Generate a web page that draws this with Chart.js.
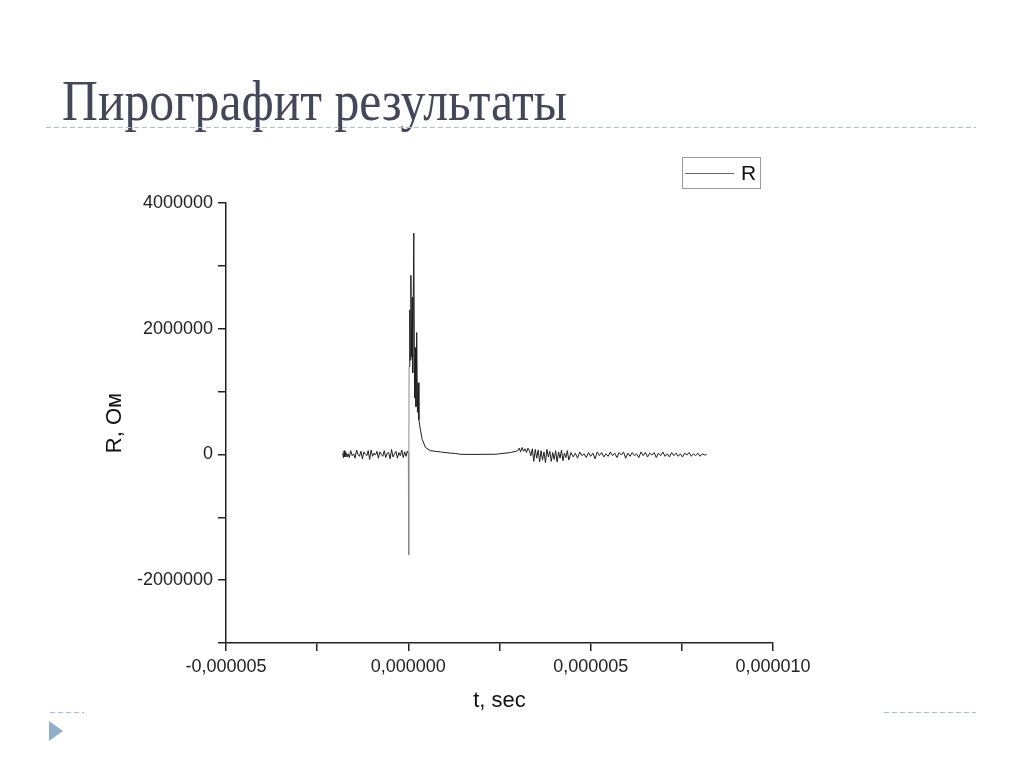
<!DOCTYPE html>
<html lang="ru">
<head>
<meta charset="utf-8">
<title>Пирографит результаты</title>
<script src="https://cdn.jsdelivr.net/npm/chart.js@4.4.1/dist/chart.umd.min.js"></script>
<style>
    html, body { margin: 0; padding: 0; background: #fff; }
    #slide { position: relative; width: 1024px; height: 767px; overflow: hidden; }
    #titulo {
        position: absolute; left: 62px; top: 73px; margin: 0;
        font-family: "Liberation Serif", "DejaVu Serif", serif;
        font-weight: normal; font-size: 56px; line-height: 1;
        color: #44465a; white-space: nowrap; transform-origin: left top;
    }
    .rayas {
        position: absolute; height: 1px;
        background: repeating-linear-gradient(to right, #a9bfcf 0 5px, transparent 5px 8px);
    }
    #flecha {
        position: absolute; left: 49px; top: 721px; width: 0; height: 0;
        border-top: 10px solid transparent; border-bottom: 10px solid transparent;
        border-left: 14px solid #8fafcb;
    }
    #grafico { position: absolute; left: 0; top: 0; }
</style>
</head>
<body>
<div id="slide">
    <h1 id="titulo">Пирографит результаты</h1>
    <div class="rayas" style="left:46px; top:127px; width:930px;"></div>
    <div class="rayas" style="left:50px; top:712px; width:34px;"></div>
    <div class="rayas" style="left:884px; top:712px; width:92px;"></div>
    <div id="flecha"></div>
    <canvas id="grafico" width="1024" height="767"></canvas>
</div>
<script>
// tiempo en microsegundos, R en Ohm
const ruidoPrevio = [
    [-1.80, 20000], [-1.78, -50000], [-1.76, 60000], [-1.74, -40000], [-1.71, 30000],
    [-1.68, -40000], [-1.65, 10000], [-1.62, -50000], [-1.58, 60000], [-1.54, -20000],
    [-1.50, 10000], [-1.46, -60000], [-1.42, 70000], [-1.38, 0], [-1.34, -30000],
    [-1.30, 50000], [-1.26, -70000], [-1.22, 40000], [-1.18, 10000], [-1.14, -20000],
    [-1.10, 60000], [-1.06, -80000], [-1.02, 70000], [-0.98, -30000], [-0.94, 20000],
    [-0.90, -10000], [-0.86, 50000], [-0.82, -60000], [-0.78, 40000], [-0.74, 0],
    [-0.70, -30000], [-0.66, 60000], [-0.62, -50000], [-0.58, 20000], [-0.54, 30000],
    [-0.50, -70000], [-0.46, 80000], [-0.42, -40000], [-0.38, 10000], [-0.34, 50000],
    [-0.30, -60000], [-0.26, 30000], [-0.22, -20000], [-0.18, 70000], [-0.14, -50000],
    [-0.10, 40000], [-0.06, -30000], [-0.03, 50000]
];

const pulso = [
    [0.00, 20000], [0.01, -1600000], [0.02, 1400000], [0.04, 2300000], [0.05, 1500000],
    [0.07, 2850000], [0.09, 1550000], [0.11, 2500000], [0.12, 1300000], [0.15, 3520000],
    [0.17, 900000], [0.19, 1700000], [0.21, 760000], [0.23, 1940000], [0.25, 670000],
    [0.27, 1140000], [0.29, 550000], [0.33, 400000], [0.38, 240000], [0.47, 110000],
    [0.60, 60000], [0.88, 40000], [1.15, 20000], [1.30, 15000], [1.42, 2000],
    [1.80, 0], [2.40, 3000], [2.50, 10000], [2.80, 30000], [2.95, 50000]
];

const ruidoFinal = [
    [3.00, 60000], [3.04, 100000], [3.08, 40000], [3.12, 110000], [3.16, 50000],
    [3.20, 90000], [3.24, 30000], [3.28, 100000], [3.32, 60000], [3.36, -20000],
    [3.40, 90000], [3.44, -110000], [3.48, 80000], [3.52, -60000], [3.56, 70000],
    [3.60, -120000], [3.64, 60000], [3.68, -90000], [3.72, 40000], [3.76, -130000],
    [3.80, 80000], [3.84, -40000], [3.88, 50000], [3.92, -110000], [3.96, 30000],
    [4.00, -80000], [4.04, 60000], [4.08, -120000], [4.12, 40000], [4.16, -60000],
    [4.20, 70000], [4.24, -100000], [4.28, 20000], [4.32, -50000], [4.36, 60000],
    [4.40, -90000], [4.46, 30000], [4.52, -40000], [4.58, 20000], [4.64, -60000],
    [4.70, 40000], [4.76, -20000], [4.82, 10000], [4.88, -50000], [4.94, 30000],
    [5.00, -30000], [5.06, 20000], [5.12, -70000], [5.18, 40000], [5.24, -20000],
    [5.30, 30000], [5.36, -40000], [5.42, 10000], [5.48, -30000], [5.54, 40000],
    [5.60, -20000], [5.66, 20000], [5.72, -50000], [5.78, 30000], [5.84, -10000],
    [5.90, 40000], [5.96, -60000], [6.02, 20000], [6.08, -30000], [6.14, 30000],
    [6.20, -20000], [6.26, 10000], [6.32, -50000], [6.38, 40000], [6.44, -20000],
    [6.50, 30000], [6.56, -40000], [6.62, 20000], [6.68, -10000], [6.74, 30000],
    [6.80, -50000], [6.86, 20000], [6.92, -20000], [6.98, 40000], [7.04, -30000],
    [7.10, 10000], [7.16, -40000], [7.22, 30000], [7.28, -20000], [7.34, 20000],
    [7.40, -30000], [7.46, 10000], [7.52, -40000], [7.58, 20000], [7.64, -10000],
    [7.70, 30000], [7.76, -30000], [7.82, 10000], [7.88, -20000], [7.94, 20000],
    [8.00, -30000], [8.06, 10000], [8.12, -10000], [8.18, 0]
];

const limitesX = [-5, 10];          // µs
const limitesY = [-3000000, 4000000];
const etiquetaSerie = 'R';
const tituloX = 't, sec';
const tituloY = 'R, Ом';

// ajustar el ancho del titulo al de la diapositiva original
const titulo = document.getElementById('titulo');
const anchoTitulo = titulo.getBoundingClientRect().width;
titulo.style.transform = `scaleX(${505 / anchoTitulo})`;

const puntos = [...ruidoPrevio, ...pulso, ...ruidoFinal].map(([t, r]) => ({ x: t, y: r }));

const fuente = '"Liberation Sans", Arial, sans-serif';

// leyenda en recuadro, como en Origin
const leyendaCaja = {
    id: 'leyendaCaja',
    afterDraw(chart) {
        const ctx = chart.ctx;
        ctx.save();
        ctx.strokeStyle = '#9a9a9a';
        ctx.lineWidth = 1;
        ctx.strokeRect(682.5, 157.5, 78, 31);
        ctx.strokeStyle = '#666';
        ctx.beginPath();
        ctx.moveTo(685, 173.5);
        ctx.lineTo(734, 173.5);
        ctx.stroke();
        ctx.fillStyle = '#111';
        ctx.font = `21px ${fuente}`;
        ctx.textBaseline = 'middle';
        ctx.fillText(etiquetaSerie, 741, 174);
        ctx.restore();
    }
};

new Chart(document.getElementById('grafico'), {
    type: 'line',
    data: {
        datasets: [{
            label: etiquetaSerie,
            data: puntos,
            borderColor: '#1e1e1e',
            borderWidth: 1,
            pointRadius: 0,
            tension: 0,
            segment: {
                borderColor: c => (c.p0.parsed.y < -1000000 || c.p1.parsed.y < -1000000) ? '#8a8a8a' : undefined
            }
        }]
    },
    options: {
        responsive: false,
        animation: false,
        layout: { padding: { left: 98, top: 203, right: 251, bottom: 49 } },
        plugins: {
            legend: { display: false },
            tooltip: { enabled: false }
        },
        scales: {
            x: {
                type: 'linear',
                min: limitesX[0],
                max: limitesX[1],
                afterFit: s => { s.height = 75; },
                border: { display: true, color: '#222', width: 1.5 },
                grid: { drawOnChartArea: false, drawTicks: true, tickLength: 8, color: '#222', lineWidth: 1.5 },
                ticks: {
                    stepSize: 2.5,
                    autoSkip: false,
                    maxRotation: 0,
                    padding: 5,
                    color: '#222',
                    font: { family: fuente, size: 18 },
                    callback: v => Math.round(v / 2.5) % 2 === 0
                        ? (v * 1e-6).toFixed(6).replace('.', ',')
                        : ''
                },
                title: { display: true, text: tituloX, color: '#111', font: { family: fuente, size: 22 } }
            },
            y: {
                min: limitesY[0],
                max: limitesY[1],
                afterFit: s => { s.width = 128; },
                border: { display: true, color: '#222', width: 1.5 },
                grid: { drawOnChartArea: false, drawTicks: true, tickLength: 8, color: '#222', lineWidth: 1.5 },
                ticks: {
                    stepSize: 1000000,
                    autoSkip: false,
                    padding: 5,
                    color: '#222',
                    font: { family: fuente, size: 18 },
                    callback: v => v % 2000000 === 0 ? String(v) : ''
                },
                title: { display: true, text: tituloY, color: '#111', font: { family: fuente, size: 22 } }
            }
        }
    },
    plugins: [leyendaCaja]
});
</script>
</body>
</html>
